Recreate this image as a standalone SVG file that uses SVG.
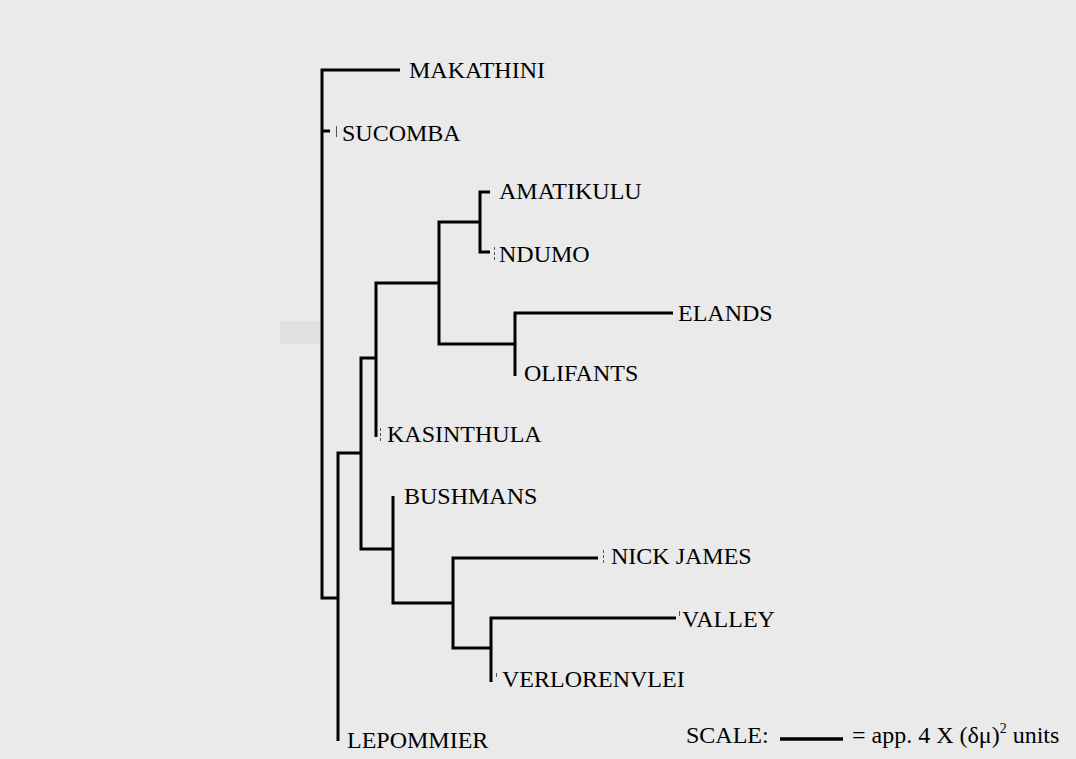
<svg xmlns="http://www.w3.org/2000/svg" width="1076" height="759" viewBox="0 0 1076 759">
<style>
.b{fill:none;stroke:#000;stroke-width:3;stroke-linejoin:miter;stroke-linecap:butt}
.t{fill:none;stroke:#555;stroke-width:1}
.d{fill:none;stroke:#555;stroke-width:1;stroke-dasharray:3 2}
</style>
<rect x="0" y="0" width="1076" height="759" fill="#eaeaea"/>
<rect x="280" y="321" width="40" height="23" fill="#e1e1e1"/>
<g id="connectors">
<path class="b" d="M400,70 H322 V598 H338"/>
<path class="b" d="M322,131 H330"/>
<path class="b" d="M361,453 H338 V741"/>
<path class="b" d="M376,358 H361 V549 H393"/>
<path class="b" d="M439,283 H376 V437"/>
<path class="b" d="M480,222 H439 V344 H515"/>
<path class="b" d="M490,192 H480 V252 H490"/>
<path class="b" d="M673,313 H515 V376"/>
<path class="b" d="M393,496 V603 H453"/>
<path class="b" d="M598,558 H453 V648 H491"/>
<path class="b" d="M676,618 H491 V682"/>
<path class="t" d="M336.5,126 V137"/>
<path class="d" d="M494.5,247 V262"/>
<path class="d" d="M380.5,428 V442"/>
<path class="d" d="M603.5,550 V564"/>
<path class="t" d="M679.5,611 V616"/>
<path class="t" d="M496.5,673 V677"/>
</g>
<g font-family="'Liberation Serif', 'Times New Roman', 'DejaVu Serif', serif" font-size="24" fill="#000">
<g id="n-makathini"><text x="409" y="78">MAKATHINI</text></g>
<g id="n-sucomba"><text x="342" y="141">SUCOMBA</text></g>
<g id="n-amatikulu"><text x="499" y="199">AMATIKULU</text></g>
<g id="n-ndumo"><text x="499" y="262">NDUMO</text></g>
<g id="n-elands"><text x="678" y="321">ELANDS</text></g>
<g id="n-olifants"><text x="524" y="381">OLIFANTS</text></g>
<g id="n-kasinthula"><text x="387" y="442">KASINTHULA</text></g>
<g id="n-bushmans"><text x="404" y="504">BUSHMANS</text></g>
<g id="n-nickjames"><text x="611" y="564">NICK JAMES</text></g>
<g id="n-valley"><text x="682" y="627">VALLEY</text></g>
<g id="n-verlorenvlei"><text x="502" y="687">VERLORENVLEI</text></g>
<g id="n-lepommier"><text x="347" y="748">LEPOMMIER</text></g>
<g id="scale">
<text x="686" y="743">SCALE:</text>
<line x1="780" y1="739" x2="843" y2="739" stroke="#000" stroke-width="3.5"/>
<text x="852" y="743">= app. 4 X (δμ)<tspan font-size="14" dy="-10">2</tspan><tspan dy="10"> units</tspan></text>
</g>
</g>
</svg>
